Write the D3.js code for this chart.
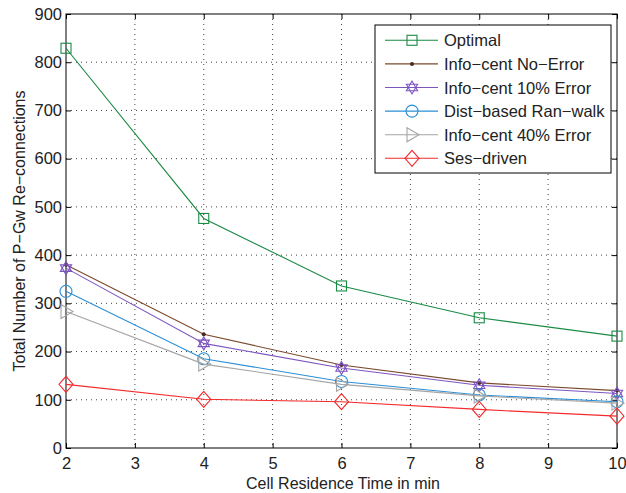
<!DOCTYPE html>
<html>
<head>
<meta charset="utf-8">
<script src="https://cdn.jsdelivr.net/npm/d3@7"></script>
<style>
body { margin: 0; background: #fff; }
text { font-family: "Liberation Sans", Arial, sans-serif; fill: #222; }
</style>
</head>
<body>
<svg id="chart" width="626" height="493"></svg>
<script>
// Data
var xTimes = [2, 4, 6, 8, 10];
var optimal = [829, 476, 336, 270, 232];
var noError = [380, 236, 172, 135, 119];
var err10 = [373, 217, 166, 130, 113];
var distWalk = [325, 185, 138, 110, 96];
var err40 = [283, 174, 132, 108, 93];
var sesDriven = [132, 101, 96, 80, 66];
var seriesNames = ["Optimal", "Info\u2212cent No\u2212Error", "Info\u2212cent 10% Error",
  "Dist\u2212based Ran\u2212walk", "Info\u2212cent 40% Error", "Ses\u2212driven"];
var xTicks = [2, 3, 4, 5, 6, 7, 8, 9, 10];
var yTicks = [0, 100, 200, 300, 400, 500, 600, 700, 800, 900];

var series = [
  { name: seriesNames[0], vals: optimal, color: "#1b8a45", marker: "square" },
  { name: seriesNames[1], vals: noError, color: "#7b4a2d", marker: "dot" },
  { name: seriesNames[2], vals: err10, color: "#7d55c0", marker: "hexagram" },
  { name: seriesNames[3], vals: distWalk, color: "#2a8fd4", marker: "circle" },
  { name: seriesNames[4], vals: err40, color: "#a5a5a5", marker: "triangle" },
  { name: seriesNames[5], vals: sesDriven, color: "#f52a2a", marker: "diamond" }
];

// plot area edges
var pLeft = 66, pRight = 617, pTop = 14, pBottom = 448;
var svg = d3.select("#chart");
var x = d3.scaleLinear().domain([2, 10]).range([pLeft, pRight]);
var y = d3.scaleLinear().domain([0, 900]).range([pBottom, pTop]);

// dotted grid
var grid = svg.append("g");
xTicks.slice(1, -1).forEach(function(t) {
  grid.append("line").attr("x1", x(t)).attr("x2", x(t)).attr("y1", pTop).attr("y2", pBottom)
    .attr("stroke", "#444").attr("stroke-width", 1).attr("stroke-dasharray", "1,4");
});
yTicks.slice(1, -1).forEach(function(t) {
  grid.append("line").attr("x1", pLeft).attr("x2", pRight).attr("y1", y(t)).attr("y2", y(t))
    .attr("stroke", "#444").attr("stroke-width", 1).attr("stroke-dasharray", "1,4");
});

// axes with inward ticks
var xAxis = d3.axisBottom(x).tickValues(xTicks).tickSize(-5).tickPadding(9).tickFormat(d3.format("d"));
var yAxis = d3.axisLeft(y).tickValues(yTicks).tickSize(-5).tickPadding(4);
var gx = svg.append("g").attr("transform", "translate(0," + pBottom + ")").call(xAxis);
var gy = svg.append("g").attr("transform", "translate(" + pLeft + ",0)").call(yAxis);
var gxt = svg.append("g").attr("transform", "translate(0," + pTop + ")")
  .call(d3.axisTop(x).tickValues(xTicks).tickSize(-5).tickFormat(""));
var gyr = svg.append("g").attr("transform", "translate(" + pRight + ",0)")
  .call(d3.axisRight(y).tickValues(yTicks).tickSize(-5).tickFormat(""));
[gx, gy, gxt, gyr].forEach(function(g) {
  g.select(".domain").remove();
  g.selectAll("line").attr("stroke", "#000");
  g.selectAll("text").style("font-size", "16.5px").attr("fill", "#222");
});
svg.append("rect").attr("x", pLeft).attr("y", pTop).attr("width", pRight - pLeft).attr("height", pBottom - pTop)
  .attr("fill", "none").attr("stroke", "#000").attr("stroke-width", 1);

function drawMarker(g, kind, cx, cy, color) {
  if (kind == "square") {
    g.append("rect").attr("x", cx - 5).attr("y", cy - 5).attr("width", 10).attr("height", 10)
      .attr("fill", "none").attr("stroke", color).attr("stroke-width", 1.1);
  } else if (kind == "dot") {
    g.append("circle").attr("cx", cx).attr("cy", cy).attr("r", 2).attr("fill", "#4a2a1a");
  } else if (kind == "circle") {
    g.append("circle").attr("cx", cx).attr("cy", cy).attr("r", 6).attr("fill", "none")
      .attr("stroke", color).attr("stroke-width", 1.1);
  } else if (kind == "triangle") {
    g.append("path").attr("d", "M" + (cx - 5) + "," + (cy - 7) + "L" + (cx + 7) + "," + cy + "L" + (cx - 5) + "," + (cy + 7) + "Z")
      .attr("fill", "none").attr("stroke", color).attr("stroke-width", 1.1);
  } else if (kind == "diamond") {
    g.append("path").attr("d", "M" + cx + "," + (cy - 8) + "L" + (cx + 7) + "," + cy + "L" + cx + "," + (cy + 8) + "L" + (cx - 7) + "," + cy + "Z")
      .attr("fill", "none").attr("stroke", color).attr("stroke-width", 1.1);
  } else if (kind == "hexagram") {
    var r = 6.5, pts1 = [], pts2 = [];
    for (var i = 0; i < 3; i++) {
      var a1 = -Math.PI / 2 + i * 2 * Math.PI / 3;
      var a2 = Math.PI / 2 + i * 2 * Math.PI / 3;
      pts1.push([cx + r * Math.cos(a1), cy + r * Math.sin(a1)]);
      pts2.push([cx + r * Math.cos(a2), cy + r * Math.sin(a2)]);
    }
    g.append("path").attr("d", "M" + pts1.join("L") + "Z").attr("fill", "none").attr("stroke", color).attr("stroke-width", 1.1);
    g.append("path").attr("d", "M" + pts2.join("L") + "Z").attr("fill", "none").attr("stroke", color).attr("stroke-width", 1.1);
  }
}

var line = d3.line().x(function(d, i) { return x(xTimes[i]); }).y(function(d) { return y(d); });
var plot = svg.append("g");
series.forEach(function(s) {
  plot.append("path").datum(s.vals).attr("d", line).attr("fill", "none")
    .attr("stroke", s.color).attr("stroke-width", 1.1);
  s.vals.forEach(function(v, i) {
    drawMarker(plot, s.marker, x(xTimes[i]), y(v), s.color);
  });
});

// legend
var lg = svg.append("g");
lg.append("rect").attr("x", 375).attr("y", 25).attr("width", 236).attr("height", 148)
  .attr("fill", "#fff").attr("stroke", "#000").attr("stroke-width", 1);
series.forEach(function(s, i) {
  var ly = 40.3 + i * 23.6;
  lg.append("line").attr("x1", 385).attr("x2", 438).attr("y1", ly).attr("y2", ly)
    .attr("stroke", s.color).attr("stroke-width", 1.1);
  drawMarker(lg, s.marker, 412, ly, s.color);
  lg.append("text").attr("x", 444).attr("y", ly + 6).style("font-size", "16.5px").text(s.name);
});

// axis titles
svg.append("text").attr("x", 343).attr("y", 489).attr("text-anchor", "middle")
  .style("font-size", "16px").text("Cell Residence Time in min");
svg.append("text").attr("transform", "translate(25," + ((pTop + pBottom) / 2) + ") rotate(-90)")
  .attr("text-anchor", "middle").style("font-size", "16px").text("Total Number of P\u2212Gw Re\u2212connections");
</script>
</body>
</html>
